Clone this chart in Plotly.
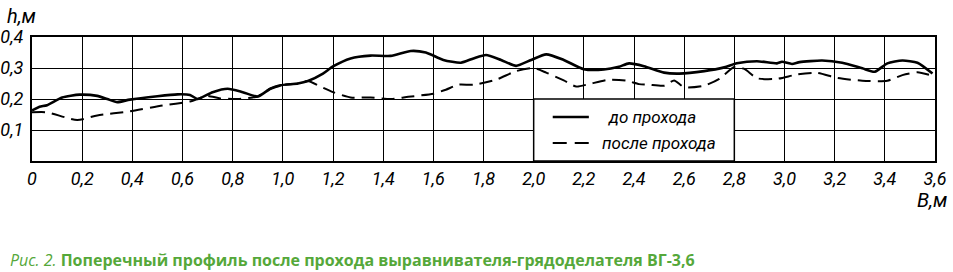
import plotly.graph_objects as go

# до прохода (solid)
x_do = [0, 0.03, 0.06, 0.12, 0.19, 0.26, 0.30, 0.34, 0.39, 0.5, 0.58, 0.63, 0.66, 0.72, 0.78, 0.84,
        0.9, 0.95, 0.99, 1.06, 1.1, 1.16, 1.2, 1.27, 1.35, 1.43, 1.51, 1.57, 1.64, 1.71, 1.76, 1.81,
        1.87, 1.93, 1.99, 2.05, 2.12, 2.2, 2.28, 2.34, 2.38, 2.44, 2.52, 2.58, 2.68, 2.76, 2.81, 2.89,
        2.97, 2.99, 3.03, 3.06, 3.15, 3.23, 3.31, 3.36, 3.41, 3.47, 3.53, 3.59]
h_do = [0.163, 0.175, 0.18, 0.205, 0.214, 0.21, 0.2, 0.19, 0.198, 0.209, 0.215, 0.213, 0.2, 0.222,
        0.233, 0.222, 0.208, 0.233, 0.244, 0.25, 0.258, 0.282, 0.305, 0.331, 0.34, 0.339, 0.355, 0.35,
        0.326, 0.317, 0.331, 0.342, 0.326, 0.307, 0.326, 0.344, 0.326, 0.296, 0.295, 0.304, 0.315,
        0.306, 0.285, 0.282, 0.29, 0.302, 0.315, 0.322, 0.315, 0.32, 0.313, 0.319, 0.324, 0.317,
        0.299, 0.288, 0.315, 0.324, 0.317, 0.282]

# после прохода (dashed)
x_posle = [0, 0.06, 0.18, 0.26, 0.39, 0.52, 0.63, 0.66, 0.7, 0.75, 0.82, 0.88, 0.9, 0.95, 0.99, 1.06,
           1.1, 1.15, 1.2, 1.27, 1.35, 1.43, 1.5, 1.6, 1.65, 1.7, 1.76, 1.85, 1.93, 2.0, 2.05, 2.12,
           2.17, 2.22, 2.3, 2.37, 2.42, 2.46, 2.52, 2.56, 2.6, 2.68, 2.74, 2.8, 2.84, 2.89, 2.97, 3.05,
           3.13, 3.21, 3.31, 3.41, 3.47, 3.53, 3.59]
h_posle = [0.157, 0.157, 0.132, 0.147, 0.16, 0.179, 0.192, 0.2, 0.21, 0.202, 0.2, 0.205, 0.208, 0.233,
           0.244, 0.25, 0.258, 0.24, 0.222, 0.205, 0.205, 0.2, 0.207, 0.217, 0.23, 0.246, 0.246, 0.262,
           0.29, 0.3, 0.285, 0.26, 0.24, 0.248, 0.262, 0.259, 0.248, 0.246, 0.243, 0.26, 0.238, 0.243,
           0.265, 0.303, 0.297, 0.267, 0.265, 0.279, 0.284, 0.268, 0.259, 0.259, 0.277, 0.286, 0.275]

x_ticks = [0, 0.2, 0.4, 0.6, 0.8, 1.0, 1.2, 1.4, 1.6, 1.8, 2.0, 2.2, 2.4, 2.6, 2.8, 3.0, 3.2, 3.4, 3.6]
x_labels = ["0", "0,2", "0,4", "0,6", "0,8", "1,0", "1,2", "1,4", "1,6", "1,8", "2,0", "2,2", "2,4",
            "2,6", "2,8", "3,0", "3,2", "3,4", "3,6"]
y_ticks = [0.1, 0.2, 0.3, 0.4]
y_labels = ["0,1", "0,2", "0,3", "0,4"]

legend_do = "до прохода"
legend_posle = "после прохода"
caption_pre = "Рис. 2."
caption = "Поперечный профиль после прохода выравнивателя-грядоделателя ВГ-3,6"

hand = "Roboto, DejaVu Sans, sans-serif"
green = "#55a83a"

W, H = 953, 272
ml, mr, mt, mb = 32, 18, 37, 111
pw, ph = W - ml - mr, H - mt - mb


def px2paper(px, py):
    return (px - ml) / pw, 1 - (py - mt) / ph


fig = go.Figure()
fig.add_trace(go.Scatter(x=x_do, y=h_do, mode="lines",
                         line=dict(color="black", width=2.6, shape="spline", smoothing=0.6),
                         showlegend=False, hoverinfo="skip"))
fig.add_trace(go.Scatter(x=x_posle, y=h_posle, mode="lines",
                         line=dict(color="black", width=2, dash="13px,7px", shape="spline", smoothing=0.6),
                         showlegend=False, hoverinfo="skip"))

# legend box
fig.add_shape(type="rect", x0=2.0, x1=2.8, y0=0, y1=0.2, xref="x", yref="y",
              fillcolor="white", line=dict(color="black", width=1.5), layer="above")
fig.add_shape(type="line", x0=2.076, x1=2.22, y0=0.142, y1=0.142, xref="x", yref="y",
              line=dict(color="black", width=2.6), layer="above")
fig.add_shape(type="line", x0=2.076, x1=2.22, y0=0.058, y1=0.058, xref="x", yref="y",
              line=dict(color="black", width=2, dash="14px,8px"), layer="above")
fig.add_annotation(x=2.289, y=0.142, xref="x", yref="y", text=legend_do, showarrow=False,
                   xanchor="left", yanchor="middle",
                   font=dict(family=hand, size=17, color="black", style="italic"))
fig.add_annotation(x=2.265, y=0.058, xref="x", yref="y", text=legend_posle, showarrow=False,
                   xanchor="left", yanchor="middle",
                   font=dict(family=hand, size=17, color="black", style="italic"))

# axis titles and caption (positions in pixels -> paper)
hx, hy = px2paper(5, 16)
fig.add_annotation(x=hx, y=hy, xref="paper", yref="paper", text="h,м", showarrow=False,
                   xanchor="left", yanchor="middle",
                   font=dict(family=hand, size=20, color="black", style="italic"))
bx, by = px2paper(932, 200)
fig.add_annotation(x=bx, y=by, xref="paper", yref="paper", text="В,м", showarrow=False,
                   xanchor="center", yanchor="middle",
                   font=dict(family=hand, size=20, color="black", style="italic"))
cx, cy = px2paper(8, 260)
fig.add_annotation(x=cx, y=cy, xref="paper", yref="paper",
                   text="<i>" + caption_pre + "</i> <b>" + caption + "</b>", showarrow=False,
                   xanchor="left", yanchor="middle",
                   font=dict(family="Open Sans, sans-serif", size=16, color=green))

fig.update_layout(
    width=W, height=H,
    margin=dict(l=ml, r=mr, t=mt, b=mb, pad=0, autoexpand=False),
    paper_bgcolor="white", plot_bgcolor="white",
    xaxis=dict(range=[0, 3.6], tickvals=x_ticks, ticktext=x_labels, showgrid=True, gridcolor="black",
               gridwidth=1.4, showline=True, linecolor="black", linewidth=2, mirror=True, zeroline=False,
               ticks="", ticklen=0, ticklabelstandoff=0, automargin=False,
               tickfont=dict(family=hand, size=18, color="black", style="italic"), fixedrange=True),
    yaxis=dict(range=[0, 0.4], tickvals=y_ticks, ticktext=y_labels, showgrid=True, gridcolor="black",
               gridwidth=1.4, showline=True, linecolor="black", linewidth=2, mirror=True, zeroline=False,
               ticks="", ticklen=0, ticklabelstandoff=3, automargin=False,
               tickfont=dict(family=hand, size=18, color="black", style="italic"), fixedrange=True),
)

fig.write_html("out.html", config={"displayModeBar": False},
               post_script="document.body.style.margin='0';document.body.style.overflow='hidden';")
